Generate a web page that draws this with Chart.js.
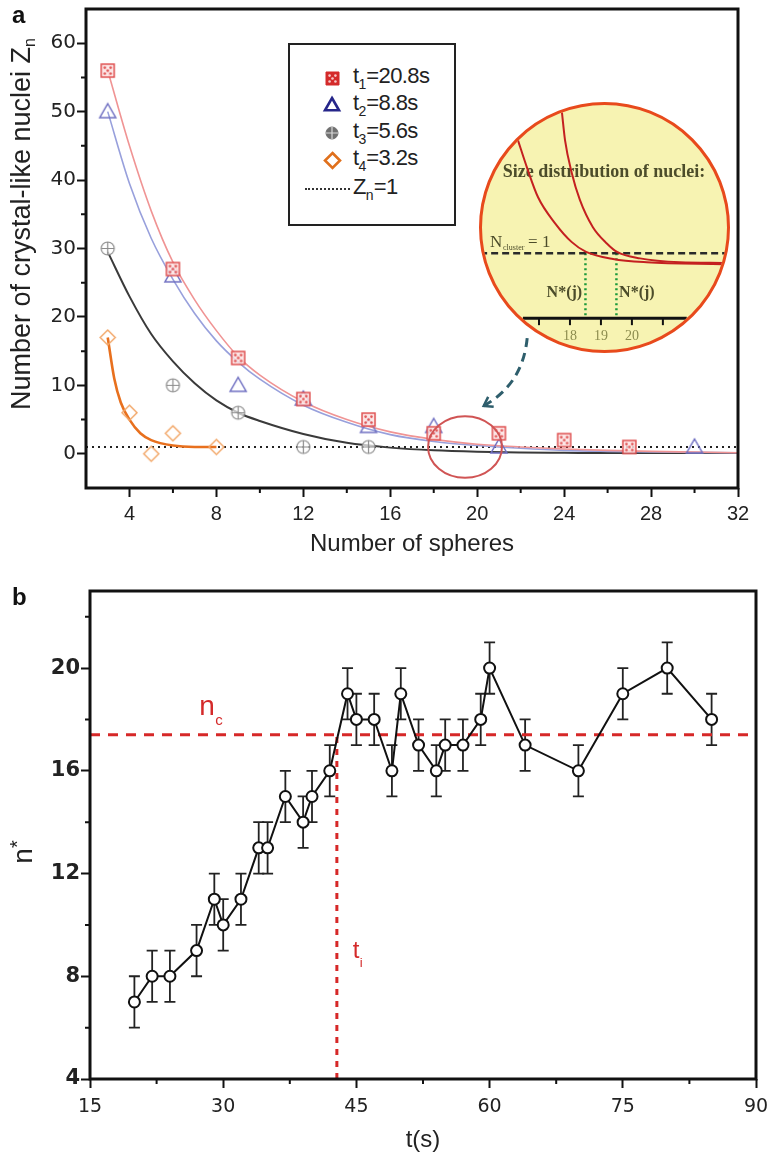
<!DOCTYPE html>
<html>
<head>
<meta charset="utf-8">
<script src="https://cdn.jsdelivr.net/npm/chart.js@4.4.1/dist/chart.umd.min.js"></script>
<style>
  body { margin: 0; background: #fff; font-family: "Liberation Sans", Arial, sans-serif; color: #222; }
  #page { position: relative; width: 771px; height: 1156px; overflow: hidden; }
  .holder { position: absolute; left: 0; }
  .tag { position: absolute; left: 12px; font-weight: bold; font-size: 24px; line-height: 24px; color: #111; }
  .ytitle { position: absolute; white-space: nowrap; transform: translate(-50%, -50%) rotate(-90deg); color: #222; }
  .ytitle sub { font-size: 16px; vertical-align: -5px; }
  .ytitle sup { font-size: 20px; vertical-align: 8px; }
  #legendA { position: absolute; left: 288px; top: 43px; width: 168px; height: 183px; border: 2px solid #222; box-sizing: border-box; background: #fff; }
  #legendA canvas { position: absolute; }
  #legendA .txt { position: absolute; left: 63px; font-size: 22px; line-height: 26px; letter-spacing: -0.6px; color: #222; white-space: nowrap; }
  #legendA sub { font-size: 14px; vertical-align: -6px; letter-spacing: 0; }
  #legendA .dots { position: absolute; left: 15px; width: 45px; border-top: 2px dotted #333; }
  #inset { position: absolute; left: 479px; top: 102px; width: 251px; height: 251px; box-sizing: border-box;
           border: 3px solid #e84a1c; border-radius: 50%; overflow: hidden; background: #f7f3b2; }
</style>
</head>
<body>
<div id="page">
  <div class="holder" style="top:0"><canvas id="chartA" width="771" height="560"></canvas></div>
  <div id="legendA"></div>
  <div id="inset"><canvas id="chartInset" width="245" height="245"></canvas></div>
  <div class="tag" style="top:3px">a</div>
  <div class="ytitle" style="left:22px;top:224px;font-size:27px">Number of crystal-like nuclei Z<sub>n</sub></div>

  <div class="holder" style="top:565px"><canvas id="chartB" width="771" height="591"></canvas></div>
  <div class="tag" style="top:585px">b</div>
  <div class="ytitle" style="left:22px;top:852px;font-size:28px">n<sup>*</sup></div>
</div>
<script>
const SANS = '"Liberation Sans", Arial, sans-serif';
const DEJA = '"DejaVu Sans", sans-serif';
const SERIF = '"Liberation Serif", "DejaVu Serif", serif';

// ---------- panel a : number of crystal-like nuclei vs number of spheres
const spheres1 = [3, 6, 9, 12, 15, 18, 21, 24, 27];
const zn1 = [56, 27, 14, 8, 5, 3, 3, 2, 1];
const spheres2 = [3, 6, 9, 12, 15, 18, 21, 30];
const zn2 = [50, 26, 10, 8, 4, 4, 1, 1];
const spheres3 = [3, 6, 9, 12, 15];
const zn3 = [30, 10, 6, 1, 1];
const spheres4 = [3, 4, 5, 6, 8];
const zn4 = [17, 6, 0, 3, 1];

// fitted curves
const fitX = [3, 4, 5, 6, 7, 8, 9, 10, 12, 14, 16, 18, 20, 22, 24, 26, 28, 30, 32];
const fit1 = [56, 45, 35.5, 28, 22.5, 18, 14.2, 11.5, 7.6, 5, 3.2, 2.1, 1.4, 1, 0.7, 0.5, 0.35, 0.25, 0.15];
const fit2 = [50, 39.5, 31.5, 25.5, 20.5, 16.5, 13.4, 10.9, 7.1, 4.6, 2.8, 1.8, 1.2, 0.8, 0.5, 0.35, 0.25, 0.2, 0.15];
const fit3 = [29.5, 23, 17.5, 13.5, 10.3, 7.8, 6, 4.8, 2.9, 1.6, 0.9, 0.5, 0.3, 0.2, 0.15, 0.1, 0.1, 0.1, 0.1];
const fit4X = [3, 3.3, 3.6, 4, 4.5, 5, 6, 7, 8];
const fit4 = [17, 11, 7.5, 5, 3, 2, 1.2, 1, 1];
const znLimit = 1;

const seriesNames = ['t<sub>1</sub>=20.8s', 't<sub>2</sub>=8.8s', 't<sub>3</sub>=5.6s', 't<sub>4</sub>=3.2s'];
const xTicksA = [4, 8, 12, 16, 20, 24, 28, 32];
const xMinorA = [6, 10, 14, 18, 22, 26, 30];
const yTicksA = [0, 10, 20, 30, 40, 50, 60];
const yMinorA = [5, 15, 25, 35, 45, 55];

// inset: size distribution of nuclei
const insetAx = [16.32, 16.61, 16.97, 17.52, 18.06, 18.52, 19.39, 20.48, 22.94];
const insetAy = [2.74, 2.32, 1.86, 1.46, 1.17, 1.02, 0.91, 0.86, 0.83];
const insetBx = [17.74, 17.84, 18.06, 18.32, 18.74, 19.19, 19.52, 20.26, 21.55, 22.94];
const insetBy = [3.17, 2.74, 2.23, 1.82, 1.40, 1.15, 1.02, 0.92, 0.86, 0.85];
const nStar = [18.5, 19.5];
const insetTicks = [17, 18, 19, 20, 21];
const insetLabels = ['', '18', '19', '20', ''];

// ---------- panel b : n* vs t
const tB = [20, 22, 24, 27, 29, 30, 32, 34, 35, 37, 39, 40, 42, 44, 45, 47, 49, 50, 52, 54, 55, 57, 59, 60, 64, 70, 75, 80, 85];
const nB = [7, 8, 8, 9, 11, 10, 11, 13, 13, 15, 14, 15, 16, 19, 18, 18, 16, 19, 17, 16, 17, 17, 18, 20, 17, 16, 19, 20, 18];
const errB = [1, 1, 1, 1, 1, 1, 1, 1, 1, 1, 1, 1, 1, 1, 1, 1, 1, 1, 1, 1, 1, 1, 1, 1, 1, 1, 1, 1, 1];
const nC = 17.4;
const tI = 42.8;
const xTicksB = [15, 30, 45, 60, 75, 90];
const xMinorB = [22.5, 37.5, 52.5, 67.5, 82.5];
const yTicksB = [4, 8, 12, 16, 20];
const yMinorB = [6, 10, 14, 18, 22];

const pts = (xs, ys) => xs.map((x, i) => ({ x: x, y: ys[i] }));

// little marker images
function marker(kind, size, stroke, fill, lw, inner) {
  const c = document.createElement('canvas');
  c.width = c.height = size + 6;
  const g = c.getContext('2d'), m = c.width / 2, h = size / 2;
  g.lineWidth = lw; g.strokeStyle = stroke;
  g.beginPath();
  if (kind === 'square') g.rect(m - h, m - h, size, size);
  if (kind === 'triangle') { g.moveTo(m, m - h); g.lineTo(m + h, m + h * 0.75); g.lineTo(m - h, m + h * 0.75); g.closePath(); }
  if (kind === 'circle') g.arc(m, m, h, 0, Math.PI * 2);
  if (kind === 'diamond') { g.moveTo(m, m - h); g.lineTo(m + h, m); g.lineTo(m, m + h); g.lineTo(m - h, m); g.closePath(); }
  if (fill) { g.fillStyle = fill; g.fill(); }
  g.stroke();
  if (inner && kind === 'square') {
    g.fillStyle = inner;
    [[-0.45, -0.45], [0.45, -0.45], [0, 0], [-0.45, 0.45], [0.45, 0.45]].forEach(d => {
      g.beginPath(); g.arc(m + d[0] * h, m + d[1] * h, 1.3, 0, Math.PI * 2); g.fill();
    });
  }
  if (inner && kind === 'circle') {
    g.strokeStyle = inner; g.lineWidth = 1.2;
    g.beginPath(); g.moveTo(m - h, m); g.lineTo(m + h, m); g.moveTo(m, m - h); g.lineTo(m, m + h); g.stroke();
  }
  return c;
}

const plotMarks = [
  marker('square', 13, '#e05252', 'rgba(252,226,226,0.85)', 1.5, '#e05252'),
  marker('triangle', 16, '#7070c2', null, 1.5),
  marker('circle', 13, '#8c8c8c', 'rgba(255,255,255,0.7)', 1.2, '#8c8c8c'),
  marker('diamond', 15, '#f2a86a', null, 1.5)
];
const legendMarks = [
  marker('square', 13, '#d42a2a', '#d42a2a', 1, '#f6c8c8'),
  marker('triangle', 14, '#26268a', null, 2.6),
  marker('circle', 12, '#707070', '#707070', 1, '#d8d8d8'),
  marker('diamond', 15, '#e0701c', null, 2.6)
];

// legend of panel a
const legendBox = document.getElementById('legendA');
const rowY = [33, 60, 88, 115, 144];
seriesNames.forEach((name, i) => {
  const cv = legendMarks[i];
  cv.style.left = (42 - cv.width / 2) + 'px';
  cv.style.top = (rowY[i] - cv.height / 2) + 'px';
  legendBox.appendChild(cv);
  const t = document.createElement('div');
  t.className = 'txt'; t.style.top = (rowY[i] - 15) + 'px'; t.innerHTML = name;
  legendBox.appendChild(t);
});
const dl = document.createElement('div');
dl.className = 'dots'; dl.style.top = (rowY[4] - 1) + 'px';
legendBox.appendChild(dl);
const zl = document.createElement('div');
zl.className = 'txt'; zl.style.top = (rowY[4] - 15) + 'px'; zl.innerHTML = 'Z<sub>n</sub>=1';
legendBox.appendChild(zl);

// ---------- shared plugins
const framePlugin = {
  id: 'frame',
  afterDatasetsDraw(chart, args, opts) {
    const a = chart.chartArea, ctx = chart.ctx;
    ctx.save();
    ctx.lineWidth = opts.width || 3;
    ctx.strokeStyle = '#111';
    ctx.strokeRect(a.left, a.top, a.right - a.left, a.bottom - a.top);
    ctx.restore();
  }
};

const minorTicksPlugin = {
  id: 'minorTicks',
  afterDraw(chart, args, opts) {
    const a = chart.chartArea, ctx = chart.ctx, len = opts.len || 5;
    ctx.save();
    ctx.strokeStyle = '#111'; ctx.lineWidth = 2;
    ctx.beginPath();
    (opts.x || []).forEach(v => {
      const px = chart.scales.x.getPixelForValue(v);
      ctx.moveTo(px, a.bottom); ctx.lineTo(px, a.bottom + len);
    });
    (opts.y || []).forEach(v => {
      const py = chart.scales.y.getPixelForValue(v);
      ctx.moveTo(a.left, py); ctx.lineTo(a.left - len, py);
    });
    ctx.stroke();
    ctx.restore();
  }
};

function fixBox(size, horizontal) {
  return s => {
    if (horizontal) s.height = size; else s.width = size;
    s.paddingLeft = s.paddingRight = s.paddingTop = s.paddingBottom = 0;
  };
}
const setTicks = list => s => { s.ticks = list.map(v => ({ value: v })); };

// ---------- panel a chart
const zoomMarkPlugin = {
  id: 'zoomMark',
  afterDatasetsDraw(chart) {
    const ctx = chart.ctx, x = chart.scales.x, y = chart.scales.y;
    ctx.save();
    // red ellipse around the crossing region
    const cx = x.getPixelForValue(19.44), cy = y.getPixelForValue(1.0);
    const rx = x.getPixelForValue(19.44 + 1.7) - cx, ry = cy - y.getPixelForValue(1.0 + 4.5);
    ctx.strokeStyle = '#d05454'; ctx.lineWidth = 2;
    ctx.beginPath(); ctx.ellipse(cx, cy, rx, ry, 0, 0, Math.PI * 2); ctx.stroke();
    // dashed arrow from the inset
    const sx = x.getPixelForValue(22.3), sy = y.getPixelForValue(16.9);
    const qx = x.getPixelForValue(22.1), qy = y.getPixelForValue(10.2);
    const ex = x.getPixelForValue(20.3), ey = y.getPixelForValue(7.0);
    ctx.strokeStyle = '#2e5e6c'; ctx.lineWidth = 3; ctx.setLineDash([9, 6]);
    ctx.beginPath(); ctx.moveTo(sx, sy); ctx.quadraticCurveTo(qx, qy, ex, ey); ctx.stroke();
    ctx.setLineDash([]); ctx.lineWidth = 2.5;
    const ang = Math.atan2(ey - qy, ex - qx);
    ctx.beginPath();
    ctx.moveTo(ex - 10 * Math.cos(ang - 0.6), ey - 10 * Math.sin(ang - 0.6));
    ctx.lineTo(ex, ey);
    ctx.lineTo(ex - 10 * Math.cos(ang + 0.6), ey - 10 * Math.sin(ang + 0.6));
    ctx.stroke();
    ctx.restore();
  }
};

const fitLine = (data, color, width) => ({
  type: 'line', data: data, borderColor: color, borderWidth: width,
  pointRadius: 0, cubicInterpolationMode: 'monotone', fill: false
});
const markSet = (data, img) => ({
  type: 'scatter', data: data, pointStyle: img, pointRadius: 8, showLine: false
});

new Chart(document.getElementById('chartA'), {
  type: 'scatter',
  data: {
    datasets: [
      markSet(pts(spheres1, zn1), plotMarks[0]),
      markSet(pts(spheres2, zn2), plotMarks[1]),
      markSet(pts(spheres3, zn3), plotMarks[2]),
      markSet(pts(spheres4, zn4), plotMarks[3]),
      fitLine(pts(fitX, fit1), '#f09494', 1.6),
      fitLine(pts(fitX, fit2), '#98a0dc', 1.6),
      fitLine(pts(fitX, fit3), '#3a3a3a', 2),
      fitLine(pts(fit4X, fit4), '#e8701e', 2.6),
      { type: 'line', data: [{ x: 2, y: znLimit }, { x: 32, y: znLimit }], borderColor: '#222',
        borderWidth: 2, borderDash: [2, 4], pointRadius: 0 }
    ]
  },
  options: {
    responsive: false,
    animation: false,
    layout: { padding: { left: 0, top: 6, right: 33, bottom: 0 } },
    plugins: {
      legend: { display: false },
      tooltip: { enabled: false },
      minorTicks: { x: xMinorA, y: yMinorA, len: 5 }
    },
    scales: {
      x: {
        type: 'linear', min: 2, max: 32,
        afterBuildTicks: setTicks(xTicksA),
        afterFit: fixBox(72, true),
        border: { display: false },
        grid: { drawOnChartArea: false, tickLength: 9, tickWidth: 2, tickColor: '#111' },
        ticks: { autoSkip: false, maxRotation: 0, padding: 5, color: '#222', font: { family: SANS, size: 20 } },
        title: { display: true, text: 'Number of spheres', color: '#222', font: { family: SANS, size: 24 }, padding: { top: 0, bottom: 1 } }
      },
      y: {
        type: 'linear', min: -5, max: 65,
        afterBuildTicks: setTicks(yTicksA),
        afterFit: fixBox(86, false),
        border: { display: false },
        grid: { drawOnChartArea: false, tickLength: 9, tickWidth: 2, tickColor: '#111' },
        ticks: { autoSkip: false, padding: 1, color: '#222', font: { family: DEJA, size: 20 } }
      }
    }
  },
  plugins: [framePlugin, minorTicksPlugin, zoomMarkPlugin]
});

// ---------- inset chart
const insetTextPlugin = {
  id: 'insetText',
  beforeDatasetsDraw(chart) {
    const ctx = chart.ctx, x = chart.scales.x, y = chart.scales.y;
    ctx.save();
    ctx.fillStyle = '#4c4c2a';
    ctx.font = 'bold 18px ' + SERIF;
    ctx.textAlign = 'center'; ctx.textBaseline = 'middle';
    ctx.fillText('Size distribution of nuclei:', x.getPixelForValue(19.1), y.getPixelForValue(2.25));
    ctx.font = 'bold 16px ' + SERIF;
    ctx.fillText('N*(j)', x.getPixelForValue(17.82), y.getPixelForValue(0.385));
    ctx.fillText('N*(j)', x.getPixelForValue(20.16), y.getPixelForValue(0.385));
    ctx.textAlign = 'left'; ctx.textBaseline = 'alphabetic';
    const nx = x.getPixelForValue(15.42), ny = y.getPixelForValue(1.09);
    ctx.font = '17px ' + SERIF;
    ctx.fillText('N', nx, ny);
    ctx.font = '8px ' + SERIF;
    ctx.fillText('cluster', nx + 13, ny + 3);
    ctx.font = '17px ' + SERIF;
    ctx.fillText('= 1', nx + 38, ny);
    // small axis
    const ay = y.getPixelForValue(0);
    ctx.strokeStyle = '#111'; ctx.lineWidth = 3;
    ctx.beginPath();
    ctx.moveTo(x.getPixelForValue(16.48), ay); ctx.lineTo(x.getPixelForValue(21.77), ay);
    ctx.stroke();
    ctx.lineWidth = 2;
    ctx.fillStyle = '#8c8c4e'; ctx.font = '14px ' + SERIF; ctx.textAlign = 'center'; ctx.textBaseline = 'top';
    insetTicks.forEach((v, i) => {
      const px = x.getPixelForValue(v);
      ctx.beginPath(); ctx.moveTo(px, ay); ctx.lineTo(px, ay + 7); ctx.stroke();
      if (insetLabels[i]) ctx.fillText(insetLabels[i], px, ay + 11);
    });
    ctx.restore();
  }
};

new Chart(document.getElementById('chartInset'), {
  type: 'scatter',
  data: {
    datasets: [
      fitLine(pts(insetAx, insetAy), '#c42020', 2),
      fitLine(pts(insetBx, insetBy), '#c42020', 2),
      { type: 'line', data: [{ x: 15.1, y: 1 }, { x: 23.1, y: 1 }], borderColor: '#2a2a2a', borderWidth: 2.5, borderDash: [7, 4], pointRadius: 0 },
      { type: 'line', data: [{ x: nStar[0], y: 1 }, { x: nStar[0], y: 0 }], borderColor: '#1e9a3c', borderWidth: 2.5, borderDash: [2, 3], pointRadius: 0 },
      { type: 'line', data: [{ x: nStar[1], y: 1 }, { x: nStar[1], y: 0 }], borderColor: '#1e9a3c', borderWidth: 2.5, borderDash: [2, 3], pointRadius: 0 }
    ]
  },
  options: {
    responsive: false,
    animation: false,
    layout: { padding: 0 },
    plugins: { legend: { display: false }, tooltip: { enabled: false } },
    scales: {
      x: { type: 'linear', display: false, min: 15.16, max: 23.07 },
      y: { type: 'linear', display: false, min: -0.49, max: 3.28 }
    }
  },
  plugins: [insetTextPlugin]
});

// ---------- panel b chart
const errorBarPlugin = {
  id: 'errorBars',
  beforeDatasetsDraw(chart) {
    const ctx = chart.ctx, x = chart.scales.x, y = chart.scales.y;
    ctx.save();
    ctx.strokeStyle = '#222'; ctx.lineWidth = 1.8;
    tB.forEach((t, i) => {
      const px = x.getPixelForValue(t);
      const top = y.getPixelForValue(nB[i] + errB[i]), bot = y.getPixelForValue(nB[i] - errB[i]);
      ctx.beginPath();
      ctx.moveTo(px, top); ctx.lineTo(px, bot);
      ctx.moveTo(px - 5.5, top); ctx.lineTo(px + 5.5, top);
      ctx.moveTo(px - 5.5, bot); ctx.lineTo(px + 5.5, bot);
      ctx.stroke();
    });
    ctx.restore();
  }
};

const markLabelsPlugin = {
  id: 'markLabels',
  afterDatasetsDraw(chart) {
    const ctx = chart.ctx, x = chart.scales.x, y = chart.scales.y;
    ctx.save();
    ctx.fillStyle = '#d42a2a'; ctx.textAlign = 'left'; ctx.textBaseline = 'alphabetic';
    let px = x.getPixelForValue(27.3), py = y.getPixelForValue(18.17);
    ctx.font = '28px ' + SANS; ctx.fillText('n', px, py);
    ctx.font = '15px ' + SANS; ctx.fillText('c', px + 16, py + 10);
    px = x.getPixelForValue(44.6); py = y.getPixelForValue(8.71);
    ctx.font = '24px ' + SANS; ctx.fillText('t', px, py);
    ctx.font = '13px ' + SANS; ctx.fillText('i', px + 7, py + 9);
    ctx.restore();
  }
};

new Chart(document.getElementById('chartB'), {
  type: 'scatter',
  data: {
    datasets: [
      { type: 'line', data: pts(tB, nB), borderColor: '#111', borderWidth: 2, tension: 0,
        pointRadius: 5.5, pointBackgroundColor: '#fff', pointBorderColor: '#111', pointBorderWidth: 2 },
      { type: 'line', data: [{ x: 15, y: nC }, { x: 90, y: nC }], borderColor: '#d62828', borderWidth: 3,
        borderDash: [10, 8], pointRadius: 0 },
      { type: 'line', data: [{ x: tI, y: 4 }, { x: tI, y: nC }], borderColor: '#d62828', borderWidth: 3,
        borderDash: [6, 6], pointRadius: 0 }
    ]
  },
  options: {
    responsive: false,
    animation: false,
    layout: { padding: { left: 0, top: 26, right: 15, bottom: 0 } },
    plugins: {
      legend: { display: false },
      tooltip: { enabled: false },
      minorTicks: { x: xMinorB, y: yMinorB, len: 5 }
    },
    scales: {
      x: {
        type: 'linear', min: 15, max: 90,
        afterBuildTicks: setTicks(xTicksB),
        afterFit: fixBox(77, true),
        border: { display: false },
        grid: { drawOnChartArea: false, tickLength: 9, tickWidth: 2, tickColor: '#111' },
        ticks: { autoSkip: false, maxRotation: 0, padding: 8, color: '#222', font: { family: DEJA, size: 19 } },
        title: { display: true, text: 't(s)', color: '#222', font: { family: SANS, size: 24 }, padding: { top: 0, bottom: 1 } }
      },
      y: {
        type: 'linear', min: 4, max: 23,
        afterBuildTicks: setTicks(yTicksB),
        afterFit: fixBox(90, false),
        border: { display: false },
        grid: { drawOnChartArea: false, tickLength: 9, tickWidth: 2, tickColor: '#111' },
        ticks: { autoSkip: false, padding: 1, color: '#222', font: { family: DEJA, size: 21, weight: 'bold' } }
      }
    }
  },
  plugins: [errorBarPlugin, framePlugin, minorTicksPlugin, markLabelsPlugin]
});
</script>
</body>
</html>
